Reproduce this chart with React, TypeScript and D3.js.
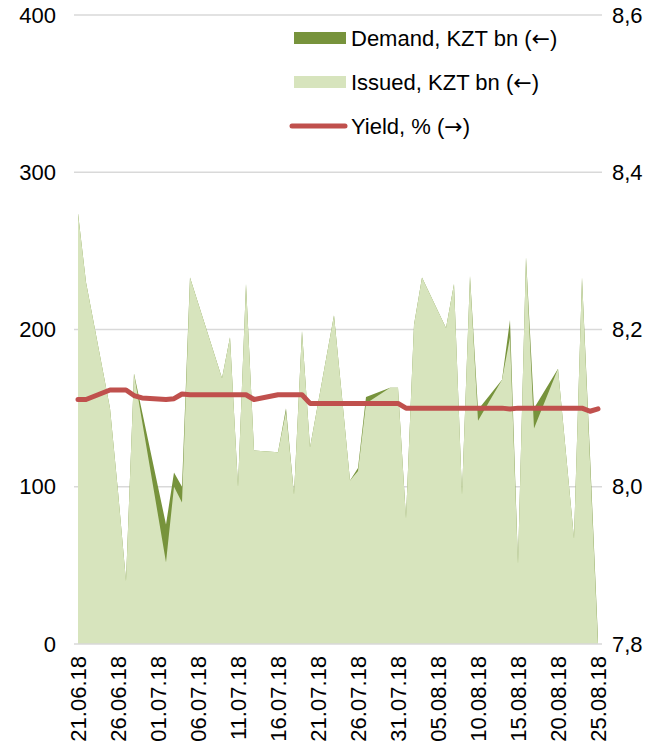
import React from "react";
import * as d3 from "d3";

const dates = [
  "21.06.18","22.06.18","25.06.18","26.06.18","27.06.18","28.06.18","29.06.18",
  "02.07.18","03.07.18","04.07.18","05.07.18","09.07.18","10.07.18","11.07.18","12.07.18","13.07.18",
  "16.07.18","17.07.18","18.07.18","19.07.18","20.07.18","23.07.18","24.07.18","25.07.18","26.07.18","27.07.18",
  "30.07.18","31.07.18","01.08.18","02.08.18","03.08.18","06.08.18","07.08.18","08.08.18","09.08.18","10.08.18",
  "13.08.18","14.08.18","15.08.18","16.08.18","17.08.18","20.08.18","22.08.18","23.08.18","24.08.18","25.08.18",
];
const issued = [
  274,230,150,97,40,172,142,
  52,100,90,233,169,195,100,229,123,
  122,148,95,199,125,209,157,104,110,153,
  163,163,80,203,233,201,229,95,234,142,
  168,195,51,246,137,175,67,233,116,0,
];
const demand = [
  274,230,150,97,40,172,148,
  76,109,100,233,169,195,100,229,123,
  122,150,95,199,125,209,157,104,112,157,
  163,163,80,203,233,201,229,95,234,149,
  168,206,51,246,150,175,67,233,120,3,
];
const yieldPct = [
  8.111,8.111,8.123,8.123,8.123,8.116,8.113,
  8.111,8.112,8.118,8.117,8.117,8.117,8.117,8.117,8.111,
  8.117,8.117,8.117,8.117,8.106,8.106,8.106,8.106,8.106,8.106,
  8.106,8.106,8.100,8.100,8.100,8.100,8.100,8.100,8.100,8.100,
  8.100,8.099,8.100,8.100,8.100,8.100,8.100,8.100,8.096,8.099,
];
const xTickLabels = [
  "21.06.18","26.06.18","01.07.18","06.07.18","11.07.18","16.07.18","21.07.18",
  "26.07.18","31.07.18","05.08.18","10.08.18","15.08.18","20.08.18","25.08.18",
];
const leftTicks = [0, 100, 200, 300, 400];
const rightTicks = [7.8, 8.0, 8.2, 8.4, 8.6];
const legendItems = [
  { label: "Demand, KZT bn", arrow: "\u2190", kind: "rect", color: "#77933C" },
  { label: "Issued, KZT bn", arrow: "\u2190", kind: "rect", color: "#D7E4BD" },
  { label: "Yield, %", arrow: "\u2192", kind: "line", color: "#C0504D" },
];

const W = 663, H = 751;
const parse = d3.timeParse("%d.%m.%y");
const HALF_DAY = 12 * 3600 * 1000;

export default function App() {
  const ds = dates.map((s) => parse(s) as Date);
  const x = d3.scaleTime()
    .domain([new Date(ds[0].getTime() - HALF_DAY), new Date(ds[ds.length - 1].getTime() + HALF_DAY)])
    .range([74, 602]);
  const yL = d3.scaleLinear().domain([0, 400]).range([644, 15]);
  const yR = d3.scaleLinear().domain([7.8, 8.6]).range([644, 15]);

  const area = (vals: number[]) =>
    d3.area<number>()
      .x((_, i) => x(ds[i]))
      .y0(yL(0))
      .y1((v) => yL(v))(vals) as string;
  const line = d3.line<number>()
    .x((_, i) => x(ds[i]))
    .y((v) => yR(v))(yieldPct) as string;

  const font = "'Liberation Sans', Arial, sans-serif";
  const fmtR = (v: number) => v.toFixed(1).replace(".", ",");

  return (
    <svg width={W} height={H} style={{ position: "absolute", left: 0, top: 0, background: "#fff" }} fontFamily={font}>
      {leftTicks.filter((t) => t > 0).map((t) => (
        <line key={t} x1={74} x2={602} y1={yL(t)} y2={yL(t)} stroke="#D9D9D9" strokeWidth={1.5} />
      ))}
      <path d={area(demand)} fill="#77933C" />
      <path d={area(issued)} fill="#D7E4BD" />
      <line x1={74} x2={602} y1={yL(0)} y2={yL(0)} stroke="#D9D9D9" strokeWidth={1.5} />
      <path d={line} fill="none" stroke="#C0504D" strokeWidth={5} strokeLinejoin="round" strokeLinecap="round" />

      {leftTicks.map((t) => (
        <text key={t} x={56} y={yL(t)} dy="0.35em" textAnchor="end" fontSize={22} fill="#000">{t}</text>
      ))}
      {rightTicks.map((t) => (
        <text key={t} x={612} y={yR(t)} dy="0.35em" textAnchor="start" fontSize={22} fill="#000">{fmtR(t)}</text>
      ))}
      {xTickLabels.map((s) => {
        const cx = x(parse(s) as Date);
        return (
          <text key={s} transform={`translate(${cx},656) rotate(-90)`} dy="0.35em" textAnchor="end" fontSize={22} fill="#000">{s}</text>
        );
      })}

      {legendItems.map((it, i) => {
        const cy = 38 + i * 44;
        return (
          <g key={it.label}>
            {it.kind === "rect" ? (
              <rect x={294} y={cy - 6} width={52} height={12} fill={it.color} />
            ) : (
              <line x1={292} x2={345} y1={cy} y2={cy} stroke={it.color} strokeWidth={5} strokeLinecap="round" />
            )}
            <text x={351} y={cy} dy="0.35em" fontSize={22} fill="#000">
              {it.label + " ("}
              <tspan fontFamily="'DejaVu Sans'">{it.arrow}</tspan>
              {")"}
            </text>
          </g>
        );
      })}
    </svg>
  );
}
